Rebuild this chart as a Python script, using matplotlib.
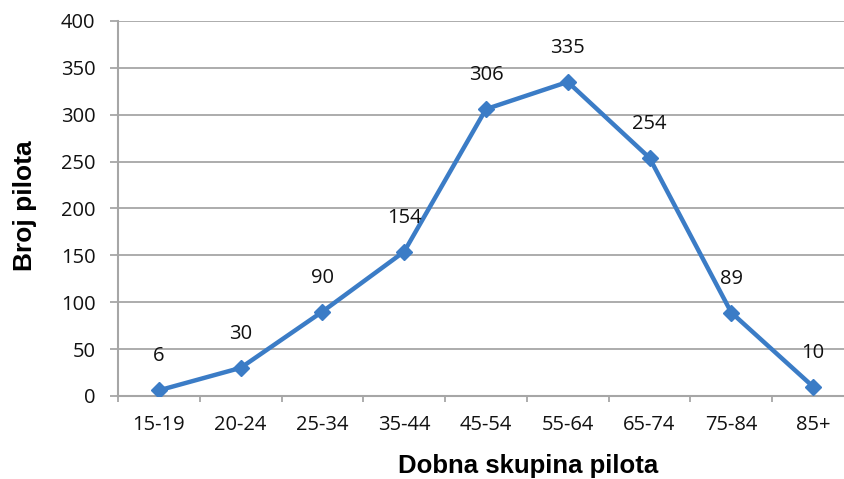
import numpy as np
import matplotlib.pyplot as plt

# podaci
skupine = ['15-19', '20-24', '25-34', '35-44', '45-54', '55-64', '65-74', '75-84', '85+']
broj_pilota = [6, 30, 90, 154, 306, 335, 254, 89, 10]
y_ticks = [0, 50, 100, 150, 200, 250, 300, 350, 400]

plava = '#3b7cc6'
siva = '#a6a6a6'
tick_font = 'Open Sans'

fig = plt.figure(figsize=(8.44, 4.79), dpi=100)
ax = fig.add_axes([0.1398, 0.1733, 0.872, 0.7829])

x = np.arange(len(skupine))
ax.plot(x, broj_pilota, color=plava, linewidth=3.2, marker='D', markersize=8,
        markerfacecolor=plava, markeredgecolor=plava, markeredgewidth=1, zorder=3)

for xi, v in zip(x, broj_pilota):
    ax.annotate(str(v), (xi, v), xytext=(0, 24.5), textcoords='offset points',
                ha='center', va='center', fontsize=14.5, family=tick_font, color='#111111')

ax.set_xlim(-0.5, len(skupine) - 0.5)
ax.set_ylim(0, 400)
ax.set_yticks(y_ticks)
ax.set_xticks(x)
ax.set_xticklabels(skupine)
ax.set_xticks(np.arange(-0.5, len(skupine)), minor=True)

ax.grid(axis='y', color=siva, linewidth=1.3)
ax.set_axisbelow(True)
for s in ['top', 'right']:
    ax.spines[s].set_visible(False)
for s in ['left', 'bottom']:
    ax.spines[s].set_color(siva)
    ax.spines[s].set_linewidth(1.5)

ax.tick_params(axis='y', length=5.8, width=1.3, color=siva, pad=10.5, labelsize=14.5)
ax.tick_params(axis='x', which='major', length=0, pad=14, labelsize=14.5)
ax.tick_params(axis='x', which='minor', length=4.3, width=1.3, color=siva)
for lbl in ax.get_xticklabels() + ax.get_yticklabels():
    lbl.set_family(tick_font)
    lbl.set_color('#111111')

ax.set_xlabel('Dobna skupina pilota', family='Liberation Sans', fontweight='bold',
              fontsize=18.5)
ax.set_ylabel('Broj pilota', family='Liberation Sans', fontweight='bold',
              fontsize=19)
ax.xaxis.set_label_coords(0.557, -0.155)
ax.yaxis.set_label_coords(-0.110, 0.507)

fig.savefig('out.png', dpi=100)
